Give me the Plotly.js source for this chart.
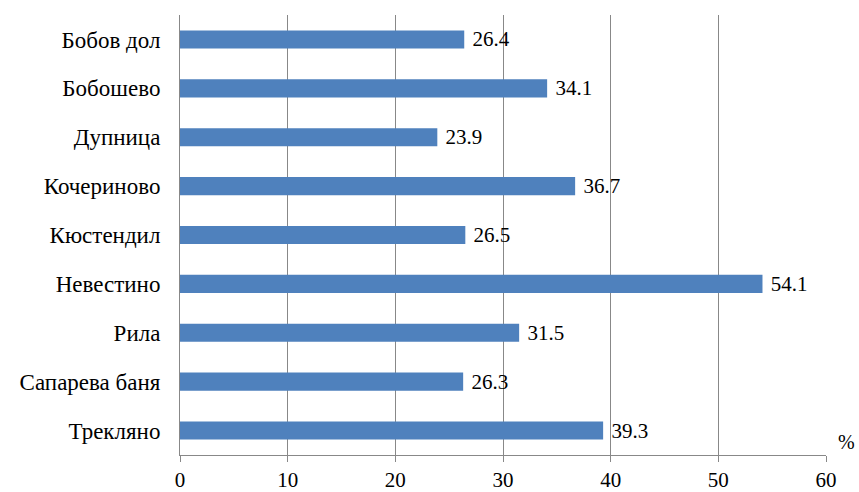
<!DOCTYPE html>
<html><head><meta charset="utf-8">
<script src="https://cdn.plot.ly/plotly-3.0.1.min.js"></script>
<style>body{margin:0}</style></head>
<body><div id="chart" style="width:859px;height:492px"></div>
<script>
var towns = ['Бобов дол', 'Бобошево', 'Дупница', 'Кочериново', 'Кюстендил', 'Невестино', 'Рила', 'Сапарева баня', 'Трекляно'];
var values = [26.4, 34.1, 23.9, 36.7, 26.5, 54.1, 31.5, 26.3, 39.3];

var bars = {
  type: 'bar',
  orientation: 'h',
  y: towns,
  x: values,
  width: 0.37,
  marker: {color: '#4f81bd'},
  text: values.map(function (v) { return '\u00a0' + v.toFixed(1); }),
  textposition: 'outside',
  constraintext: 'none',
  cliponaxis: false,
  textfont: {family: 'Liberation Serif', size: 21, color: '#000'}
};

var layout = {
  margin: {l: 180, r: 33, t: 15, b: 37},
  showlegend: false,
  plot_bgcolor: '#fff',
  paper_bgcolor: '#fff',
  font: {family: 'Liberation Serif', size: 21, color: '#000'},
  xaxis: {
    range: [0, 60], dtick: 10, showgrid: true, gridcolor: '#888', gridwidth: 1,
    zeroline: false, showline: true, linecolor: '#888', ticks: 'outside',
    ticklen: 6, tickcolor: '#888', tickfont: {size: 21}
  },
  yaxis: {
    autorange: 'reversed', showline: true, linecolor: '#888', ticks: '',
    ticklabelstandoff: 14, tickfont: {size: 23}
  },
  annotations: [{
    text: '%', x: 1, xref: 'paper', y: 0, yref: 'paper', xanchor: 'left',
    yanchor: 'bottom', xshift: 10, showarrow: false,
    font: {family: 'Liberation Serif', size: 20}
  }]
};

Plotly.newPlot('chart', [bars], layout, {displayModeBar: false, responsive: false});
</script></body></html>
